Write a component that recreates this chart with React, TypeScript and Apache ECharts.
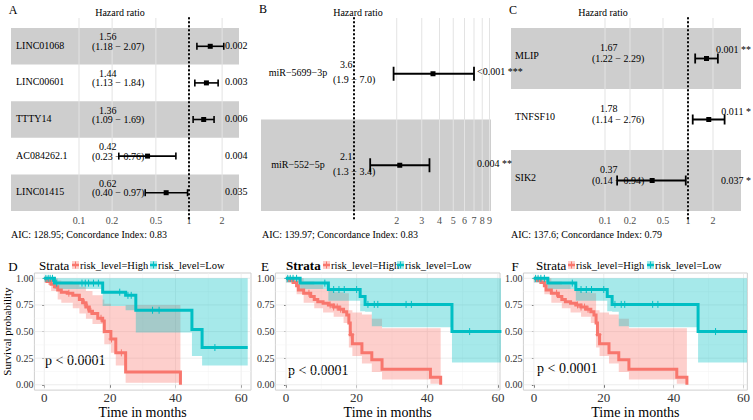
import React, { useEffect, useRef } from 'react';
import * as echarts from 'echarts';

const SERIF = "'Liberation Serif', 'Times New Roman', Times, serif";
const RED = '#F8766D';
const TEAL = '#00BFC4';
const RED_FILL = 'rgba(248,118,109,0.35)';
const TEAL_FILL = 'rgba(0,191,196,0.35)';
const MINUS = '\u2212';

// ---------------- Forest A ----------------
const aNames = ['LINC01068', 'LINC00601', 'TTTY14', 'AC084262.1', 'LINC01415'];
const aHR = [1.56, 1.44, 1.36, 0.42, 0.62];
const aLow = [1.18, 1.13, 1.09, 0.23, 0.4];
const aHigh = [2.07, 1.84, 1.69, 0.76, 0.97];
const aP = ['0.002', '0.003', '0.006', '0.004', '0.035'];
const aTicks = [0.1, 0.2, 0.5, 1, 2];
const aAIC = 'AIC: 128.95; Concordance Index: 0.83';

// ---------------- Forest B ----------------
const bNames = ['miR' + MINUS + '5699' + MINUS + '3p', 'miR' + MINUS + '552' + MINUS + '5p'];
const bHR = [3.6, 2.1];
const bLow = [1.9, 1.3];
const bHigh = [7.0, 3.4];
const bP = ['<0.001 ***', '0.004 **'];
const bTicks = [2, 3, 4, 5, 6, 7, 8, 9];
const bAIC = 'AIC: 139.97; Concordance Index: 0.83';

// ---------------- Forest C ----------------
const cNames = ['MLIP', 'TNFSF10', 'SIK2'];
const cHR = [1.67, 1.78, 0.37];
const cLow = [1.22, 1.14, 0.14];
const cHigh = [2.29, 2.76, 0.94];
const cP = ['0.001 **', '0.011 *', '0.037 *'];
const cTicks = [0.1, 0.2, 0.5, 1, 2];
const cAIC = 'AIC: 137.6; Concordance Index: 0.79';

// ---------------- KM D ----------------
const dHighT = [0, 0.8, 2.1, 3.1, 4.1, 5.2, 7.0, 8.7, 10.7, 11.7, 12.7, 13.7, 14.7, 16.3, 17.8, 18.3, 20.3, 21.8, 24.8, 41.5];
const dHighS = [1, 0.97, 0.945, 0.92, 0.89, 0.87, 0.86, 0.84, 0.8, 0.77, 0.73, 0.69, 0.67, 0.625, 0.6, 0.5, 0.43, 0.3, 0.12, 0];
const dHighBandT = [0, 2.1, 4.1, 5.2, 8.7, 10.7, 12.7, 14.7, 17.8, 18.3, 20.3, 21.8, 24.8, 41.5];
const dHighLo = [0.96, 0.88, 0.8, 0.77, 0.72, 0.67, 0.62, 0.57, 0.48, 0.38, 0.3, 0.18, 0.02, 0.02];
const dHighUp = [1, 1, 0.98, 0.97, 0.95, 0.92, 0.88, 0.84, 0.8, 0.76, 0.74, 0.74, 0.75, 0.75];
const dHighCens = [1.5, 7.5, 12.2, 13.2, 14.2, 17.3, 20.5, 23.5];
const dLowT = [0, 3.1, 17.8, 24.8, 27.9, 45.0, 48.1, 62];
const dLowS = [1, 0.955, 0.87, 0.84, 0.7, 0.52, 0.35, 0.35];
const dLowBandT = [0, 3.1, 17.8, 24.8, 27.9, 45.0, 48.1, 62];
const dLowLo = [0.97, 0.9, 0.74, 0.7, 0.49, 0.27, 0.18, 0.18];
const dLowUp = [1, 1, 1, 1, 1, 1, 1, 1];
const dLowCens = [0.5, 1.2, 1.8, 2.5, 3.8, 11.5, 12.5, 13.5, 15, 16.5, 23, 25.5, 26.5, 33, 35, 52];

// ---------------- KM E ----------------
const eHighT = [0, 1, 2, 3, 3.5, 5, 7, 8, 9, 10.5, 12, 13.5, 15, 16.3, 17.2, 17.8, 18.2, 18.8, 21.5, 24.3, 27.2, 40.9, 43.8];
const eHighS = [1, 0.98, 0.96, 0.93, 0.89, 0.86, 0.83, 0.8, 0.78, 0.765, 0.75, 0.73, 0.71, 0.685, 0.655, 0.58, 0.47, 0.385, 0.3, 0.235, 0.145, 0.07, 0];
const eHighBandT = [0, 3, 5, 8, 10.5, 13.5, 16.3, 17.8, 18.8, 21.5, 24.3, 27.2, 40.9, 43.8];
const eHighLo = [0.96, 0.85, 0.77, 0.72, 0.68, 0.64, 0.58, 0.35, 0.27, 0.2, 0.12, 0.05, 0.01, 0.01];
const eHighUp = [1, 1, 0.97, 0.94, 0.9, 0.87, 0.86, 0.7, 0.68, 0.66, 0.62, 0.53, 0.53, 0.53];
const eHighCens = [6.5, 12.5, 13.5, 14.5, 15.5, 18.5];
const eLowT = [0, 4, 12, 21, 22.4, 47, 61];
const eLowS = [1, 0.955, 0.895, 0.83, 0.755, 0.5, 0.5];
const eLowBandT = [0, 4, 12, 21, 22.4, 24.3, 27.2, 47, 61];
const eLowLo = [0.96, 0.9, 0.79, 0.69, 0.685, 0.55, 0.54, 0.21, 0.21];
const eLowUp = [1, 1, 1, 1, 1, 1, 1, 1, 1];
const eLowCens = [0.5, 1.2, 2, 3, 11, 13.5, 15, 16.5, 20, 23.2, 25, 26, 34, 35.5, 52];

// ---------------- KM F ----------------
const fHighT = [0, 1, 2, 3, 3.5, 5, 7, 8, 9, 10.5, 12, 13.5, 15, 16.3, 17.2, 17.8, 18.2, 18.8, 21.5, 24.3, 27.2, 40.9, 43.8];
const fHighS = [1, 0.98, 0.96, 0.93, 0.89, 0.86, 0.83, 0.8, 0.78, 0.765, 0.75, 0.73, 0.71, 0.685, 0.655, 0.58, 0.47, 0.385, 0.3, 0.235, 0.145, 0.07, 0];
const fHighBandT = [0, 3, 5, 8, 10.5, 13.5, 16.3, 17.8, 18.8, 21.5, 24.3, 27.2, 40.9, 43.8];
const fHighLo = [0.96, 0.85, 0.77, 0.72, 0.68, 0.64, 0.58, 0.35, 0.27, 0.2, 0.12, 0.05, 0.01, 0.01];
const fHighUp = [1, 1, 0.97, 0.94, 0.9, 0.87, 0.86, 0.7, 0.68, 0.66, 0.62, 0.53, 0.53, 0.53];
const fHighCens = [6.5, 12.5, 13.5, 14.5, 15.5, 18.5];
const fLowT = [0, 4, 12, 21, 22.4, 47, 61];
const fLowS = [1, 0.955, 0.895, 0.83, 0.755, 0.5, 0.5];
const fLowBandT = [0, 4, 12, 21, 22.4, 24.3, 27.2, 47, 61];
const fLowLo = [0.96, 0.9, 0.79, 0.69, 0.685, 0.55, 0.54, 0.21, 0.21];
const fLowUp = [1, 1, 1, 1, 1, 1, 1, 1, 1];
const fLowCens = [0.5, 1.2, 2, 3, 11, 13.5, 15, 16.5, 20, 23.2, 25, 26, 34, 35.5, 52];

const kmXTicks = [0, 20, 40, 60];
const kmYTicks = [0, 0.25, 0.5, 0.75, 1];
const strataLabels = ['risk_level=High', 'risk_level=Low'];
const pText = 'p < 0.0001';

// ---------------- helpers ----------------
type ForestData = { names: string[]; hr: number[]; low: number[]; high: number[]; p: string[]; dec: number; ticks: number[] };
type FLayout = {
  left: number; right: number; top: number; rowsTop: number; bottom: number; x1: number; perDec: number;
  nameX: number; nameAlign: string; nameDy: number; estX: number; estDy: number; ciX: number; ciDy: number;
  pX: number; pAlign: string; pDy: number[]; cap: number; sq: number; lw: number;
};

function fmtTick(v: number) {
  return String(Number(Math.pow(10, v).toPrecision(2)));
}

function textEl(text: string, x: number, y: number, align: string, size = 10, weight = 'normal', fill = '#000') {
  return {
    type: 'text', x, y, silent: true,
    style: { text, fill, fontFamily: SERIF, fontSize: size, fontWeight: weight, align, verticalAlign: 'middle' },
  };
}

function forestParts(d: ForestData, L: FLayout, gi: number) {
  const n = d.names.length;
  const rowH = (L.bottom - L.rowsTop) / n;
  const pad = (L.rowsTop - L.top) / rowH;
  const xMin = (L.left - L.x1) / L.perDec;
  const xMax = (L.right - L.x1) / L.perDec;
  const grid = { left: L.left, top: L.top, width: L.right - L.left, height: L.bottom - L.top, show: false };
  const xAxis = {
    gridIndex: gi, type: 'value', min: xMin, max: xMax,
    axisLine: { show: false }, axisTick: { show: false }, splitLine: { show: false },
    axisLabel: {
      customValues: d.ticks.map((t) => Math.log10(t)),
      formatter: (v: number) => fmtTick(v),
      fontFamily: SERIF, fontSize: 10, color: '#4d4d4d', margin: 4,
    },
  };
  const yAxis = { gridIndex: gi, type: 'value', min: -pad, max: n, inverse: true, show: false };
  const common = { xAxisIndex: gi, yAxisIndex: gi, silent: true, animation: false };
  const bandRows: number[][] = [];
  for (let i = 0; i < n; i++) if ((n - 1 - i) % 2 === 0) bandRows.push([xMin, i]);
  const series: any[] = [
    {
      ...common, type: 'custom', z: 1, data: bandRows, encode: { x: 0, y: 1 },
      renderItem: (_p: any, api: any) => {
        const r = api.value(1);
        const p0 = api.coord([xMin, r]);
        const p1 = api.coord([xMax, r + 1]);
        return { type: 'rect', shape: { x: p0[0], y: p0[1], width: p1[0] - p0[0], height: p1[1] - p0[1] }, style: { fill: '#cecece' } };
      },
    },
    {
      ...common, type: 'custom', z: 2, data: d.ticks.map((t) => [Math.log10(t), 0]), encode: { x: 0, y: 1 },
      renderItem: (_p: any, api: any) => {
        const v = api.value(0);
        const p0 = api.coord([v, -pad]);
        const p1 = api.coord([v, n]);
        return { type: 'line', shape: { x1: p0[0], y1: p0[1], x2: p1[0], y2: p1[1] }, style: { stroke: '#e3e3e3', lineWidth: 1 } };
      },
    },
    {
      ...common, type: 'custom', z: 3, data: [[0, 0]], encode: { x: 0, y: 1 },
      renderItem: (_p: any, api: any) => {
        const p0 = api.coord([0, -pad]);
        const p1 = api.coord([0, n]);
        return {
          type: 'line', shape: { x1: p0[0], y1: p0[1], x2: p1[0], y2: p1[1] + 11 },
          style: { stroke: '#000', lineWidth: 2, lineDash: [0.5, 3.5], lineCap: 'round' },
        };
      },
    },
    {
      ...common, type: 'custom', z: 4, clip: false,
      data: d.hr.map((h, i) => [Math.log10(h), Math.log10(d.low[i]), Math.log10(d.high[i]), i]),
      encode: { x: [0, 1, 2], y: 3 },
      renderItem: (params: any, api: any) => {
        const i = params.dataIndex;
        const row = api.value(3) + 0.5;
        const yc = api.coord([0, row])[1];
        const xe = api.coord([api.value(0), row])[0];
        const xl = api.coord([api.value(1), row])[0];
        const xh = api.coord([api.value(2), row])[0];
        const st = { stroke: '#000', lineWidth: L.lw };
        return {
          type: 'group',
          children: [
            { type: 'line', shape: { x1: xl, y1: yc, x2: xh, y2: yc }, style: st },
            { type: 'line', shape: { x1: xl, y1: yc - L.cap, x2: xl, y2: yc + L.cap }, style: st },
            { type: 'line', shape: { x1: xh, y1: yc - L.cap, x2: xh, y2: yc + L.cap }, style: st },
            { type: 'rect', shape: { x: xe - L.sq / 2, y: yc - L.sq / 2, width: L.sq, height: L.sq }, style: { fill: '#000' } },
            textEl(d.names[i], L.nameX, yc + L.nameDy, L.nameAlign),
            textEl(d.hr[i].toFixed(d.dec), L.estX, yc + L.estDy, 'left'),
            textEl('(' + d.low[i].toFixed(d.dec) + ' ' + MINUS + ' ' + d.high[i].toFixed(d.dec) + ')', L.ciX, yc + L.ciDy, 'left'),
            textEl(d.p[i], L.pX, yc + L.pDy[i], L.pAlign),
          ],
        };
      },
    },
  ];
  return { grid, xAxis, yAxis, series };
}

type KMData = {
  hiT: number[]; hiS: number[]; hiBT: number[]; hiLo: number[]; hiUp: number[]; hiC: number[];
  loT: number[]; loS: number[]; loBT: number[]; loLo: number[]; loUp: number[]; loC: number[];
};
type KLayout = { left: number; right: number; xMax: number; yName: boolean };

function stepAt(ts: number[], ss: number[], t: number) {
  let v = ss[0];
  for (let i = 0; i < ts.length; i++) if (ts[i] <= t) v = ss[i];
  return v;
}

function kmParts(k: KMData, L: KLayout, gi: number) {
  const top = 273;
  const height = 122.5;
  const grid = {
    left: L.left, top, width: L.right - L.left, height,
    show: true, borderColor: '#cfcfcf', borderWidth: 1, backgroundColor: '#ffffff',
  };
  const xAxis: any = {
    gridIndex: gi, type: 'value', min: -3, max: L.xMax,
    axisLine: { show: false }, splitLine: { show: false },
    axisTick: { show: true, customValues: kmXTicks, length: 3, lineStyle: { color: '#555' } },
    axisLabel: { customValues: kmXTicks, fontFamily: SERIF, fontSize: 13, color: '#333', margin: 1 },
    name: 'Time in months', nameLocation: 'middle', nameGap: 11,
    nameTextStyle: { fontFamily: SERIF, fontSize: 14, color: '#000' },
  };
  const yAxis: any = {
    gridIndex: gi, type: 'value', min: -0.05, max: 1.05,
    axisLine: { show: false }, splitLine: { show: false },
    axisTick: { show: true, customValues: kmYTicks, length: 2, lineStyle: { color: '#555' } },
    axisLabel: { customValues: kmYTicks, formatter: (v: number) => v.toFixed(2), fontFamily: SERIF, fontSize: 10, color: '#333', margin: 1 },
  };
  if (L.yName) {
    yAxis.name = 'Survival probability';
    yAxis.nameLocation = 'middle';
    yAxis.nameGap = 20;
    yAxis.nameTextStyle = { fontFamily: SERIF, fontSize: 11, color: '#000' };
  }
  const common = { xAxisIndex: gi, yAxisIndex: gi, silent: true, animation: false };
  const gridData: number[][] = [];
  [0, 10, 20, 30, 40, 50, 60].forEach((v) => gridData.push([v, 0, v % 20 === 0 ? 1 : 0]));
  [0, 0.125, 0.25, 0.375, 0.5, 0.625, 0.75, 0.875, 1].forEach((v, i) => gridData.push([v, 1, i % 2 === 0 ? 1 : 0]));
  const band = (t: number[], lo: number[], up: number[], fill: string, z: number) => ({
    ...common, type: 'custom', z, clip: true,
    data: t.map((x, i) => [x, lo[i], up[i]]), encode: { x: 0, y: [1, 2] },
    renderItem: (params: any, api: any) => {
      if (params.dataIndex !== 0) return null;
      const pts: number[][] = [];
      for (let i = 0; i < t.length; i++) {
        pts.push(api.coord([t[i], up[i]]));
        if (i < t.length - 1) pts.push(api.coord([t[i + 1], up[i]]));
      }
      for (let i = t.length - 1; i >= 0; i--) {
        if (i < t.length - 1) pts.push(api.coord([t[i + 1], lo[i]]));
        pts.push(api.coord([t[i], lo[i]]));
      }
      return { type: 'polygon', shape: { points: pts }, style: { fill } };
    },
  });
  const curve = (t: number[], s: number[], color: string, z: number) => ({
    ...common, type: 'line', z, step: 'end', showSymbol: false, symbol: 'none',
    data: t.map((x, i) => [x, s[i]]),
    lineStyle: { color, width: 3, cap: 'butt', join: 'miter' }, itemStyle: { color },
  });
  const cross = (c: number[], t: number[], s: number[], color: string, z: number) => ({
    ...common, type: 'custom', z, clip: true,
    data: c.map((x) => [x, stepAt(t, s, x)]), encode: { x: 0, y: 1 },
    renderItem: (_p: any, api: any) => {
      const p = api.coord([api.value(0), api.value(1)]);
      const st = { stroke: color, lineWidth: 1 };
      return {
        type: 'group',
        children: [
          { type: 'line', shape: { x1: p[0] - 3, y1: p[1], x2: p[0] + 3, y2: p[1] }, style: st },
          { type: 'line', shape: { x1: p[0], y1: p[1] - 3.5, x2: p[0], y2: p[1] + 3.5 }, style: st },
        ],
      };
    },
  });
  const series: any[] = [
    {
      ...common, type: 'custom', z: 1, data: gridData, encode: { x: 0 },
      renderItem: (_p: any, api: any) => {
        const v = api.value(0);
        const o = api.value(1);
        const major = api.value(2) === 1;
        const p0 = o === 0 ? api.coord([v, -0.05]) : api.coord([-3, v]);
        const p1 = o === 0 ? api.coord([v, 1.05]) : api.coord([L.xMax, v]);
        return {
          type: 'line', shape: { x1: p0[0], y1: p0[1], x2: p1[0], y2: p1[1] },
          style: { stroke: major ? '#e8e8e8' : '#f3f3f3', lineWidth: major ? 0.8 : 0.5 },
        };
      },
    },
    band(k.hiBT, k.hiLo, k.hiUp, RED_FILL, 2),
    band(k.loBT, k.loLo, k.loUp, TEAL_FILL, 3),
    curve(k.hiT, k.hiS, RED, 4),
    curve(k.loT, k.loS, TEAL, 5),
    cross(k.hiC, k.hiT, k.hiS, RED, 6),
    cross(k.loC, k.loT, k.loS, TEAL, 7),
  ];
  return { grid, xAxis, yAxis, series };
}

function legendIcon(x: number, y: number, color: string, fill: string) {
  return [
    { type: 'rect', silent: true, shape: { x, y: y - 4, width: 7, height: 8 }, style: { fill } },
    { type: 'line', silent: true, shape: { x1: x, y1: y, x2: x + 7, y2: y }, style: { stroke: color, lineWidth: 2.5 } },
    { type: 'line', silent: true, shape: { x1: x + 3.5, y1: y - 3.5, x2: x + 3.5, y2: y + 3.5 }, style: { stroke: color, lineWidth: 1 } },
  ];
}

function buildOption() {
  const fA = forestParts(
    { names: aNames, hr: aHR, low: aLow, high: aHigh, p: aP, dec: 2, ticks: aTicks },
    { left: 11, right: 239, top: 18, rowsTop: 28, bottom: 211, x1: 189, perDec: 110, nameX: 16, nameAlign: 'left', nameDy: -1,
      estX: 99, estDy: -9.5, ciX: 92, ciDy: 0, pX: 225, pAlign: 'left', pDy: [-1, -1, -1, -1, -1], cap: 3.5, sq: 5, lw: 1.6 }, 0);
  const fB = forestParts(
    { names: bNames, hr: bHR, low: bLow, high: bHigh, p: bP, dec: 1, ticks: bTicks },
    { left: 261, right: 491, top: 18, rowsTop: 28, bottom: 211, x1: 354, perDec: 142, nameX: 298, nameAlign: 'center', nameDy: -1,
      estX: 340, estDy: -9, ciX: 333, ciDy: 6, pX: 477, pAlign: 'left', pDy: [-2, -2], cap: 7, sq: 5, lw: 1.8 }, 1);
  const fC = forestParts(
    { names: cNames, hr: cHR, low: cLow, high: cHigh, p: cP, dec: 2, ticks: cTicks },
    { left: 511, right: 741, top: 18, rowsTop: 28, bottom: 211, x1: 688, perDec: 83, nameX: 515, nameAlign: 'left', nameDy: -3,
      estX: 600, estDy: -11, ciX: 592, ciDy: 0, pX: 751, pAlign: 'right', pDy: [-9, -8, 0], cap: 5, sq: 5, lw: 1.8 }, 2);
  const kD = kmParts(
    { hiT: dHighT, hiS: dHighS, hiBT: dHighBandT, hiLo: dHighLo, hiUp: dHighUp, hiC: dHighCens,
      loT: dLowT, loS: dLowS, loBT: dLowBandT, loLo: dLowLo, loUp: dLowUp, loC: dLowCens },
    { left: 33, right: 251, xMax: 63, yName: true }, 3);
  const kE = kmParts(
    { hiT: eHighT, hiS: eHighS, hiBT: eHighBandT, hiLo: eHighLo, hiUp: eHighUp, hiC: eHighCens,
      loT: eLowT, loS: eLowS, loBT: eLowBandT, loLo: eLowLo, loUp: eLowUp, loC: eLowCens },
    { left: 275.4, right: 500, xMax: 60.6, yName: false }, 4);
  const kF = kmParts(
    { hiT: fHighT, hiS: fHighS, hiBT: fHighBandT, hiLo: fHighLo, hiUp: fHighUp, hiC: fHighCens,
      loT: fLowT, loS: fLowS, loBT: fLowBandT, loLo: fLowLo, loUp: fLowUp, loC: fLowCens },
    { left: 523.4, right: 751, xMax: 61.1, yName: false }, 5);
  const parts = [fA, fB, fC, kD, kE, kF];

  const graphic: any[] = [
    textEl('A', 13, 10, 'center', 12),
    textEl('Hazard ratio', 120, 12, 'center', 10),
    textEl(aAIC, 11, 234, 'left', 10),
    textEl('B', 263, 9, 'center', 12),
    textEl('Hazard ratio', 358, 12, 'center', 10),
    textEl(bAIC, 262, 234, 'left', 10),
    textEl('C', 513, 10, 'center', 12),
    textEl('Hazard ratio', 603, 12, 'center', 10),
    textEl(cAIC, 511, 234, 'left', 10),
  ];
  const kmHead = [
    { letter: 'D', lx: 13, sx: 39, bold: 'normal', i1: 72, i2: 150, px: 45, py: 360 },
    { letter: 'E', lx: 265, sx: 286, bold: 'bold', i1: 323, i2: 397, px: 288, py: 370 },
    { letter: 'F', lx: 515, sx: 536, bold: 'normal', i1: 568, i2: 647, px: 537, py: 368 },
  ];
  kmHead.forEach((h) => {
    graphic.push(textEl(h.letter, h.lx, 266, 'center', 13));
    graphic.push(textEl('Strata', h.sx, 265, 'left', 13, h.bold));
    graphic.push(...legendIcon(h.i1, 265, RED, RED_FILL));
    graphic.push(textEl(strataLabels[0], h.i1 + 8, 265, 'left', 10.5));
    graphic.push(...legendIcon(h.i2, 265, TEAL, TEAL_FILL));
    graphic.push(textEl(strataLabels[1], h.i2 + 8, 265, 'left', 10.5));
    graphic.push(textEl(pText, h.px, h.py, 'left', 14));
  });

  return {
    animation: false,
    backgroundColor: '#ffffff',
    grid: parts.map((p) => p.grid),
    xAxis: parts.map((p) => p.xAxis),
    yAxis: parts.map((p) => p.yAxis),
    series: parts.flatMap((p) => p.series),
    graphic,
  };
}

export default function App() {
  const ref = useRef<HTMLDivElement>(null);
  useEffect(() => {
    if (!ref.current) return;
    const chart = echarts.init(ref.current, undefined, { renderer: 'svg' });
    chart.setOption(buildOption() as any);
    return () => chart.dispose();
  }, []);
  return <div ref={ref} style={{ position: 'absolute', left: 0, top: 0, width: 753, height: 420, background: '#ffffff' }} />;
}
